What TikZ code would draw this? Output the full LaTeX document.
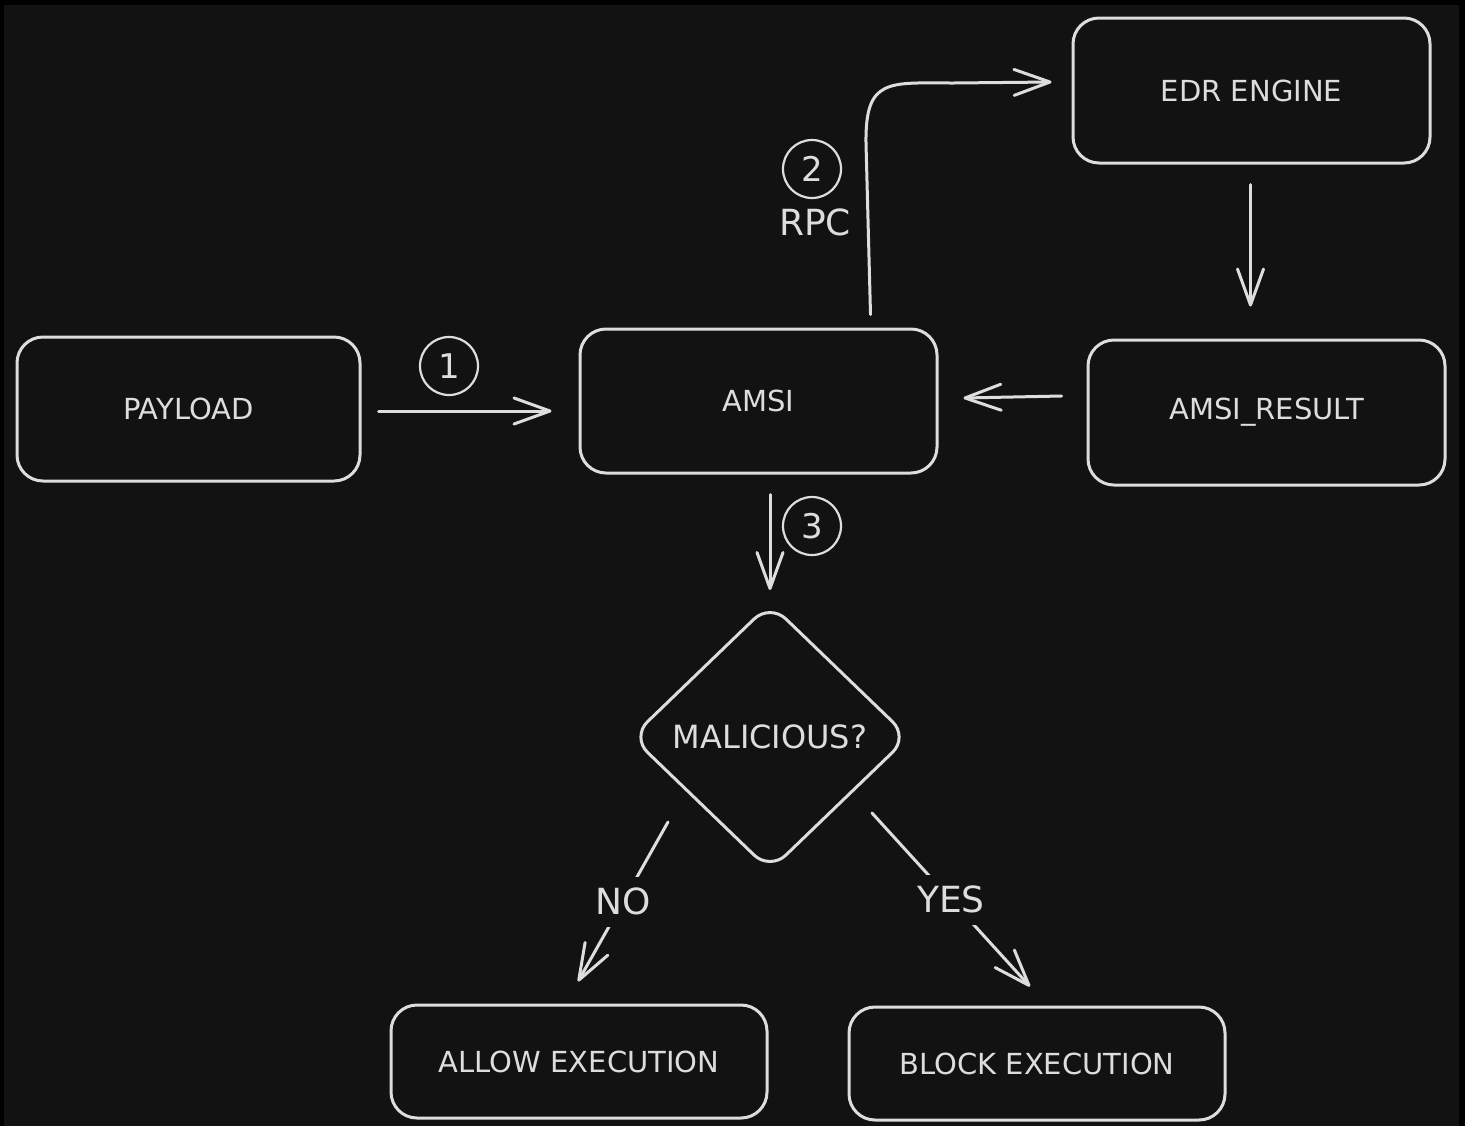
\documentclass[tikz,border=0pt]{standalone}
\usepackage{fontspec}
\setmainfont{DejaVu Sans}
\usetikzlibrary{arrows.meta,shapes.geometric,calc}
\definecolor{bg}{HTML}{121212}
\definecolor{ink}{HTML}{DDDDDD}
\begin{document}
\begin{tikzpicture}[x=0.5pt,y=-0.5pt,
  box/.style={draw=ink, line width=1.5pt, rounded corners=13pt, minimum width=178.5pt, minimum height=72pt, inner sep=0pt, text=ink, font=\fontsize{14.5}{16}\selectfont},
  num/.style={draw=ink, circle, line width=1.1pt, minimum size=29pt, inner sep=0pt, text=ink, font=\fontsize{17}{19}\selectfont},
  lbl/.style={text=ink, font=\fontsize{18}{20}\selectfont},
  conn/.style={draw=ink, line width=1.5pt, line cap=round, line join=round},
  arr/.style={conn, -{Straight Barb[length=18pt,width=13pt,round]}},
  gaplbl/.style={lbl, fill=bg, minimum height=25pt, inner xsep=2pt, inner ysep=0pt},
]
\useasboundingbox (0,0) rectangle (1465,1126);
\fill[black] (0,0) rectangle (1465,1126);
\fill[bg] (4,5) rectangle (1459,1126);

% boxes
\node[box, minimum width=171.5pt] (payload) at (188.5,409) {PAYLOAD};
\node[box] (amsi) at (758.5,401) {AMSI};
\node[box, minimum height=72.5pt] (edr) at (1251.5,90.5) {EDR ENGINE};
\node[box, minimum height=72.5pt] (result) at (1266.5,412.5) {AMSI\_RESULT};
\node[box, minimum width=188pt, minimum height=56.5pt] (allow) at (579,1061.5) {ALLOW EXECUTION};
\node[box, minimum width=188pt, minimum height=56.5pt] (block) at (1037,1063.5) {BLOCK EXECUTION};
\node[draw=ink, line width=1.5pt, diamond, rounded corners=11pt, minimum width=139pt, minimum height=134pt, inner sep=0pt, text=ink, font=\fontsize{16}{18}\selectfont] (dia) at (770,737) {MALICIOUS?};

% step markers
\node[num] (c1) at (449,366) {1};
\node[num] (c2) at (812,169) {2};
\node[num] (c3) at (812,526) {3};
\node[lbl] (rpc) at (815,222) {RPC};

% connectors
\draw[arr] ($(payload.east)+(17,2)$) -- ($(amsi.west)+(-27,10)$);
\draw[arr] ($(amsi.north)+(112,-13)$) -- ($(amsi.north)+(107.5,-184)$)
  .. controls ($(amsi.north)+(106.5,-250)$) and ($(edr.west)+(-183,-7.5)$) .. ($(edr.west)+(-118,-7.5)$)
  -- ($(edr.west)+(-20,-8.5)$);
\draw[arr] ($(edr.south)+(-1,20)$) -- ($(result.north)+(-16,-32)$);
\draw[arr] ($(result.west)+(-25,-16.5)$) -- ($(amsi.east)+(25,-3)$);
\draw[arr] ($(amsi.south)+(11.5,20)$) -- ($(dia.center)+(0,-147)$);
\draw[arr] ($(dia.center)+(-102,85)$) -- node[gaplbl] (no) {NO} ($(allow.north)+(-1,-22)$);
\draw[arr] ($(dia.center)+(102,76)$) -- node[gaplbl] (yes) {YES} ($(block.north)+(-7,-19)$);
\end{tikzpicture}
\end{document}
